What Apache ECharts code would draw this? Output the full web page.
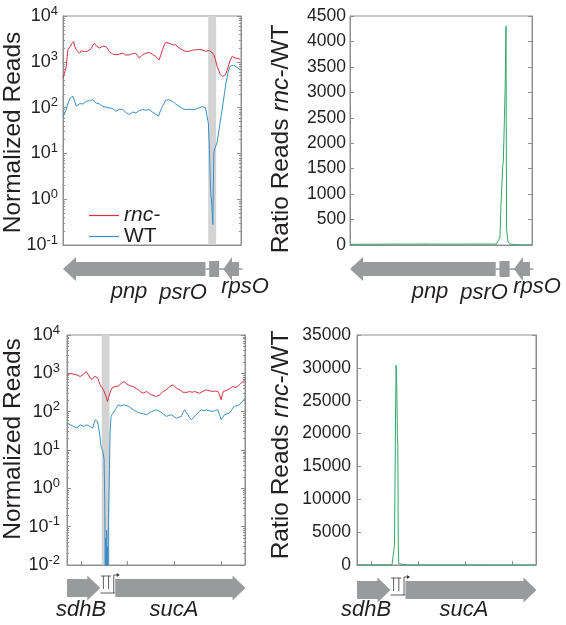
<!DOCTYPE html>
<html><head><meta charset="utf-8">
<script src="https://cdn.jsdelivr.net/npm/echarts@6/dist/echarts.min.js"></script>
<style>html,body{margin:0;padding:0;background:#fff}#c{width:566px;height:625px}</style>
</head><body><div id="c"></div>
<script>
// ---------------- DATA ----------------
// Top-left: normalized reads (position, reads)
const tlRnc = [[0,442],[1.5,560],[3.3,792],[4.2,1300],[5,1824],[6,2000],[7.3,2154],[9,2500],[10.7,2767],[12,2100],[13.3,1824],[15,1700],[16.7,1542],[18.3,1750],[20,1824],[21.7,1650],[23.3,1542],[25,1720],[26.7,1679],[28.3,1950],[30,2300],[31.7,2547],[33.3,2250],[35,2100],[36.7,1983],[38.3,2050],[40,2200],[41.7,2000],[43.3,2154],[45,1900],[46.7,1650],[48.3,1542],[50,1480],[51.7,1520],[53.3,1419],[55,1380],[56.7,1470],[58.3,1500],[60,1542],[61.7,1450],[63.3,1400],[65,1480],[66.7,1419],[68.3,1560],[70,1500],[71.7,1600],[73.3,1542],[75,1350],[76.7,1202],[78.3,1300],[80,1420],[81.7,1500],[83.3,1542],[85,1480],[86.7,1600],[88.3,1542],[90,1450],[91.7,1380],[93.3,1306],[95,1200],[96.7,1105],[98.3,1400],[100,1824],[101.7,2300],[103.3,2630],[105,2500],[106.7,2547],[108.3,2400],[110,2350],[111.7,2450],[113.3,2344],[115,2150],[116.7,2000],[118.3,1900],[120,1824],[121.7,1750],[123.3,1700],[125,1760],[126.7,1679],[128.3,1720],[130,1800],[131.7,1760],[133.3,1824],[135,1900],[136.7,1850],[138.3,1780],[140,1824],[141.7,1750],[143.3,1700],[145,1679],[146.7,1760],[148.3,1824],[150,1600],[151.7,1419],[153.3,1100],[155,792],[156.7,640],[158.3,521],[160.7,480],[162,495],[163.3,521],[165,650],[166.7,861],[168.3,1100],[170,1306],[171.7,1260],[173.3,1202],[175,1150],[176.7,1180],[178.3,1105]];
const tlWT = [[0,64.9],[1.7,59.6],[3.3,90.6],[5,126],[6,140],[7.3,162],[8.7,170],[10,176],[11.7,140],[13.3,107],[15,118],[16.7,122],[18.3,126],[20,120],[21.7,132],[23.3,137],[25,130],[26.7,142],[28.3,138],[30,149],[31.7,135],[33.3,126],[35,118],[36.7,120],[38.3,112],[40,107],[41.7,110],[43.3,102],[45,104],[46.7,98.4],[48.3,92],[50,95],[51.7,88],[53.3,83.2],[55,86],[56.7,92],[58.3,95],[60,90.6],[61.7,82],[63.3,78],[65,74],[66.7,70.5],[68.3,75],[70,80],[71.7,78],[73.3,76.6],[75,80],[76.7,86],[78.3,92],[80,90.6],[81.7,94],[83.3,88],[85,92],[86.7,90.6],[88.3,84],[90,80],[91.7,76.6],[93.3,72],[95,67],[96,64.9],[97.5,80],[99,95],[100,107],[101.7,125],[103.3,145],[105,154],[106.7,148],[108.3,142],[110,137],[111.7,130],[113.3,120],[115,112],[116.7,107],[118.3,100],[120,96],[121.7,92],[123.3,90.6],[125,88],[126.7,92],[128.3,90],[130,90.6],[131.7,95],[133.3,92],[135,96],[136.7,98.4],[138.3,102],[140,105],[141.7,107],[143.3,100],[145,90.6],[146.2,45],[147.3,12.2],[148,3],[148.7,1.18],[149.3,1.05],[150,1.0],[150.7,0.28],[151.2,2],[151.7,10.5],[153.3,14],[155,17.3],[157.5,40],[160,90.6],[162,180],[164,349],[165.5,520],[167.3,741],[168.7,820],[170,861],[171.7,840],[173.3,818],[175,760],[176.7,700],[178.3,670]];
// Top-right: ratio rnc-/WT
const trRatio = [[0,12],[10,15],[20,14],[30,16],[40,18],[50,17],[60,17],[70,19],[80,18],[90,17],[100,17],[110,18],[120,18],[130,19],[140,18],[144,20],[145.6,25],[147.5,150],[148.5,800],[150.2,1550],[150.8,1650],[151.9,2500],[152.6,3100],[153.4,4300],[154.0,300],[155.4,60],[158.3,15],[165,3],[170,1.5],[179,1.5]];
// Bottom-left: normalized reads
const blRnc = [[0,910],[1.7,960],[3.3,993],[5,920],[6.7,948],[8.3,980],[10,910],[11.7,870],[13.3,824],[15,900],[16.7,967],[18,1050],[19.3,1111],[20.5,1000],[21.7,910],[23,760],[24,674],[25.3,700],[26.7,746],[28,840],[29,910],[30,820],[31,746],[32.2,600],[33.3,500],[35,430],[36.7,371],[38,300],[39.3,249],[40,215],[40.7,184],[41.7,230],[42.7,275],[43.8,340],[45,409],[46.7,440],[48.3,453],[50,480],[51.7,470],[53.3,500],[55,560],[57.3,611],[59.5,540],[61.7,500],[64,470],[66.7,453],[69,410],[71.7,371],[74,330],[76.7,303],[78.3,320],[80,336],[82.5,300],[85,275],[87.5,262],[90,249],[91.7,262],[93.3,275],[95,305],[96.7,336],[98.3,355],[100,371],[101.7,410],[103.3,453],[105,480],[106.7,500],[108.3,450],[110,409],[111.7,390],[113.3,371],[115,340],[116.7,320],[118.3,303],[120.8,320],[123.3,336],[125.8,320],[128.3,336],[130.8,318],[133.3,303],[136.7,340],[140,371],[143.3,350],[146.7,336],[149.2,345],[151.7,336],[153.3,280],[155,204],[156.2,280],[157.3,336],[159.5,350],[161.7,371],[164.2,410],[166.7,453],[169.2,430],[171.7,453],[173.3,500],[175,552],[177,610],[179,674]];
const blWT = [[0,50.3],[1.7,48],[3.3,45.5],[5,43],[6.7,41.2],[8.3,39],[10,37.3],[11.7,41],[13.3,45.5],[15,43],[16.7,41.2],[18.3,43],[20,45.5],[21.3,43],[22.7,41.2],[24.3,39],[26,37.3],[27.2,50],[28.3,61.4],[29.5,58],[30.7,55.6],[31.7,40],[32.7,27.6],[33.5,18],[34.3,12.4],[35.2,10.5],[36,9.2],[36.7,7.5],[37.3,5.6],[38,0.42],[38.5,0.001],[39,0.05],[39.4,0.001],[39.9,0.08],[40.3,0.001],[40.8,0.03],[41.3,0.001],[41.7,0.154],[42.7,3.07],[43.3,27.6],[44.3,75],[45.5,85],[46.7,91.6],[49.2,120],[51.7,151],[54.2,140],[56.7,151],[59.2,145],[61.7,137],[64.2,125],[66.7,112],[70,100],[73.3,91.6],[76.7,88],[80,82.8],[82.5,92],[85,101],[87.5,106],[90,112],[91.7,106],[93.3,101],[96.7,88],[100,75],[102.5,80],[105,82.8],[107.5,75],[110,67.9],[112.5,72],[115,75],[116.7,95],[118.3,112],[120,95],[121.7,82.8],[123.3,70],[125,61.4],[127.5,72],[130,82.8],[132.5,98],[135,112],[137.5,105],[140,112],[143.3,106],[146.7,101],[149.2,108],[151.7,112],[153.3,85],[155,61.4],[156.7,72],[158.3,82.8],[160.8,88],[163.3,91.6],[165.8,115],[168.3,137],[170.8,145],[173.3,151],[176,180],[179,225]];
// Bottom-right: ratio rnc-/WT
const brRatio = [[0,18],[10,20],[20,22],[30,25],[35,30],[36.5,50],[37.5,3000],[38.5,22000],[39.1,30400],[39.8,27000],[40.4,19500],[40.8,18500],[41.3,3000],[41.8,200],[43.1,30],[50,5],[70,4],[100,5],[130,4],[160,3],[179,3]];

// Highlighted (grey) regions
const tlBand = [146, 154];
const blBand = [35, 42.7];

// Tick values / labels
const logTicksTop = [0.1, 1, 10, 100, 1000, 10000];
const logTicksBottom = [0.01, 0.1, 1, 10, 100, 1000, 10000];
const ratioTopMax = 4500, ratioTopStep = 500;
const ratioBottomMax = 35000, ratioBottomStep = 5000;
const bottomXTicks = [14.3, 61, 108.3, 155];

// Gene tracks: [start(tail), end(tip), kind]  kind: 0 arrow, 1 box, 2 line, 3 terminator, 4 promoter
const topGenes = [[143.3, 180.5, 2], [143.3, 0, 0], [147, 157, 1], [177, 161.3, 0]];
const bottomGenes = [[33.5, 48.5, 2], [0, 33.5, 0], [48.5, 179.5, 0], [36.6, 36.6, 3], [41.8, 41.8, 3], [47, 47, 4]];
const seriesNames = ['rnc-', 'WT'];

// ---------------- STYLE ----------------
const FONT = '"Liberation Sans", Arial, Helvetica, sans-serif';
const BOX = '#8e8e8e';
const TXT = '#231f20';
const RED = '#d6303f';
const BLUE = '#3b8ec8';
const GREEN = '#2fa866';
const GENE = '#999a9c';

const grids = [
  {left: 63, top: 16, width: 178, height: 229},
  {left: 350, top: 16, width: 182, height: 229},
  {left: 67, top: 335, width: 178, height: 230},
  {left: 357, top: 335, width: 179, height: 230},
  {left: 63, top: 256, width: 178, height: 26},
  {left: 350, top: 256, width: 182, height: 26},
  {left: 67, top: 575, width: 178, height: 26},
  {left: 357, top: 577, width: 179, height: 26}
].map(g => Object.assign({show: g.height > 100, borderColor: BOX, borderWidth: 1, backgroundColor: 'transparent'}, g));

function xMain(gi, ticks) {
  return {type: 'value', gridIndex: gi, min: 0, max: 179,
    axisLine: {show: true, onZero: false, lineStyle: {color: BOX, width: 1}},
    splitLine: {show: false}, axisLabel: {show: false},
    axisTick: ticks ? {show: true, inside: true, length: 4, customValues: ticks, lineStyle: {color: BOX}} : {show: false}};
}
function xGene(gi) {
  return {type: 'value', gridIndex: gi, min: 0, max: 179, show: false};
}
const logRich = {
  s: {fontSize: 13, fontFamily: FONT, color: TXT, lineHeight: 13, verticalAlign: 'top'}
};
function logAxes(gi, ticks, margin) {
  const min = ticks[0], max = ticks[ticks.length - 1];
  const minors = [];
  for (let i = 0; i < ticks.length - 1; i++) for (let k = 2; k <= 9; k++) minors.push(k * ticks[i]);
  const base = {type: 'log', logBase: 10, gridIndex: gi, min: min, max: max,
    splitLine: {show: false}, axisLine: {show: true, onZero: false, lineStyle: {color: BOX}}};
  return [
    Object.assign({}, base, {position: 'left',
      axisTick: {inside: true, length: 4, customValues: ticks, lineStyle: {color: BOX}},
      axisLabel: {customValues: ticks, margin: margin, fontSize: 18, lineHeight: 23, fontFamily: FONT, color: TXT,
        formatter: v => '10{s|' + Math.round(Math.log10(v)) + '}', rich: logRich}}),
    Object.assign({}, base, {position: 'right',
      axisTick: {inside: true, length: 4, customValues: ticks, lineStyle: {color: BOX}},
      axisLabel: {show: false}}),
    Object.assign({}, base, {position: 'left', axisLine: {show: false},
      axisTick: {inside: true, length: 2, customValues: minors, lineStyle: {color: BOX}},
      axisLabel: {show: false}}),
    Object.assign({}, base, {position: 'right', axisLine: {show: false},
      axisTick: {inside: true, length: 2, customValues: minors, lineStyle: {color: BOX}},
      axisLabel: {show: false}})
  ];
}
function linAxes(gi, max, step, margin) {
  const base = {type: 'value', gridIndex: gi, min: 0, max: max, interval: step,
    splitLine: {show: false}, axisLine: {show: true, onZero: false, lineStyle: {color: BOX}},
    axisTick: {inside: true, length: 4, lineStyle: {color: BOX}}};
  return [
    Object.assign({}, base, {position: 'left',
      axisLabel: {margin: margin, fontSize: 17.5, fontFamily: FONT, color: TXT, formatter: v => String(v)}}),
    Object.assign({}, base, {position: 'right', axisLabel: {show: false}})
  ];
}
function yGene(gi) {
  return {type: 'value', gridIndex: gi, min: 0, max: 1, show: false};
}

const yAxes = [].concat(
  logAxes(0, logTicksTop, 5),          // 0-3
  linAxes(1, ratioTopMax, ratioTopStep, 4),   // 4-5
  logAxes(2, logTicksBottom, 7),       // 6-9
  linAxes(3, ratioBottomMax, ratioBottomStep, 6), // 10-11
  [yGene(4), yGene(5), yGene(6), yGene(7)]      // 12-15
);

function geneRenderer(shaftH, headH, boxH, headMax, lineOff) {
  return function (params, api) {
    const kind = api.value(2);
    const p0 = api.coord([api.value(0), 0.5]);
    const p1 = api.coord([api.value(1), 0.5]);
    const cy = p0[1];
    if (kind === 0) {
      const dir = p1[0] > p0[0] ? 1 : -1;
      const len = Math.abs(p1[0] - p0[0]);
      const hl = Math.min(headMax, len * 0.55);
      const xb = p1[0] - dir * hl;
      return {type: 'polygon', shape: {points: [
        [p0[0], cy - shaftH / 2], [xb, cy - shaftH / 2], [xb, cy - headH / 2], [p1[0], cy],
        [xb, cy + headH / 2], [xb, cy + shaftH / 2], [p0[0], cy + shaftH / 2]]},
        style: {fill: GENE}};
    }
    if (kind === 1) {
      return {type: 'rect', shape: {x: Math.min(p0[0], p1[0]), y: cy - boxH / 2,
        width: Math.abs(p1[0] - p0[0]), height: boxH}, style: {fill: GENE}};
    }
    if (kind === 2) {
      return {type: 'line', shape: {x1: p0[0], y1: cy + lineOff, x2: p1[0], y2: cy + lineOff},
        style: {stroke: lineOff ? '#333' : GENE, lineWidth: lineOff ? 0.8 : 1.5}};
    }
    if (kind === 3) {
      return {type: 'group', children: [
        {type: 'line', shape: {x1: p0[0], y1: cy + 1, x2: p0[0], y2: cy - 12}, style: {stroke: '#333', lineWidth: 0.8}},
        {type: 'line', shape: {x1: p0[0] - 2.5, y1: cy - 12, x2: p0[0] + 2.5, y2: cy - 12}, style: {stroke: '#333', lineWidth: 0.8}}
      ]};
    }
    if (kind === 4) {
      return {type: 'group', children: [
        {type: 'polyline', shape: {points: [[p0[0], cy + lineOff], [p0[0], cy - 13], [p0[0] + 4, cy - 13]]}, style: {stroke: '#333', lineWidth: 0.8, fill: null}},
        {type: 'polygon', shape: {points: [[p0[0] + 3, cy - 15], [p0[0] + 6, cy - 13], [p0[0] + 3, cy - 11]]}, style: {fill: '#333'}}
      ]};
    }
    return null;
  };
}

function lineSeries(name, data, xi, yi, color) {
  return {type: 'line', name: name, data: data, xAxisIndex: xi, yAxisIndex: yi,
    showSymbol: false, symbol: 'none', smooth: false, clip: true,
    lineStyle: {color: color, width: 1}, itemStyle: {color: color}, emphasis: {disabled: true}, z: 3};
}
function bandSeries(xi, yi, band) {
  return {type: 'line', name: 'band', data: [], xAxisIndex: xi, yAxisIndex: yi, z: 1, silent: true,
    markArea: {silent: true, itemStyle: {color: '#d3d3d3', opacity: 1}, data: [[{xAxis: band[0]}, {xAxis: band[1]}]]}};
}
function geneSeries(xi, yi, data, r) {
  return {type: 'custom', xAxisIndex: xi, yAxisIndex: yi, data: data, clip: false, silent: true,
    renderItem: r, z: 2};
}

const topR = geneRenderer(14, 24, 16, 13, 0);
const botR = geneRenderer(18, 25, 18, 13, 5);

const option = {
  animation: false,
  backgroundColor: '#ffffff',
  textStyle: {fontFamily: FONT},
  grid: grids,
  xAxis: [xMain(0, null), xMain(1, null), xMain(2, bottomXTicks), xMain(3, bottomXTicks), xGene(4), xGene(5), xGene(6), xGene(7)],
  yAxis: yAxes,
  legend: {data: seriesNames, orient: 'vertical', left: 84, top: 200, itemWidth: 30, itemHeight: 1.2, itemGap: 0,
    icon: 'rect', selectedMode: false,
    formatter: n => n === 'rnc-' ? '{i|rnc-}' : n,
    textStyle: {fontSize: 21, lineHeight: 17, fontFamily: FONT, color: TXT,
      rich: {i: {fontStyle: 'italic', fontSize: 21, lineHeight: 17, fontFamily: FONT, color: TXT}}}},
  series: [
    bandSeries(0, 0, tlBand),
    lineSeries(seriesNames[0], tlRnc, 0, 0, RED),
    lineSeries(seriesNames[1], tlWT, 0, 0, BLUE),
    lineSeries('ratioTop', trRatio, 1, 4, GREEN),
    bandSeries(2, 6, blBand),
    lineSeries(seriesNames[0], blRnc, 2, 6, RED),
    lineSeries(seriesNames[1], blWT, 2, 6, BLUE),
    lineSeries('ratioBottom', brRatio, 3, 10, GREEN),
    geneSeries(4, 12, topGenes, topR),
    geneSeries(5, 13, topGenes, topR),
    geneSeries(6, 14, bottomGenes, botR),
    geneSeries(7, 15, bottomGenes, botR)
  ],
  graphic: [
    {type: 'text', x: 13, y: 132.5, rotation: Math.PI / 2, style: {text: 'Normalized Reads', fontSize: 24.5, fontFamily: FONT, fill: TXT, align: 'center', verticalAlign: 'middle'}},
    {type: 'text', x: 13, y: 439, rotation: Math.PI / 2, style: {text: 'Normalized Reads', fontSize: 24.5, fontFamily: FONT, fill: TXT, align: 'center', verticalAlign: 'middle'}},
    {type: 'text', x: 281, y: 139, rotation: Math.PI / 2, style: {text: 'Ratio Reads {i|rnc-}/WT', fontSize: 24.5, fontFamily: FONT, fill: TXT, align: 'center', verticalAlign: 'middle', rich: {i: {fontStyle: 'italic', fontSize: 24.5, fontFamily: FONT, fill: TXT}}}},
    {type: 'text', x: 281, y: 445, rotation: Math.PI / 2, style: {text: 'Ratio Reads {i|rnc-}/WT', fontSize: 24.5, fontFamily: FONT, fill: TXT, align: 'center', verticalAlign: 'middle', rich: {i: {fontStyle: 'italic', fontSize: 24.5, fontFamily: FONT, fill: TXT}}}},
    // gene labels
    {type: 'text', x: 129, y: 292, style: {text: 'pnp', fontSize: 22, fontStyle: 'italic', fontFamily: FONT, fill: TXT, align: 'center', verticalAlign: 'middle'}},
    {type: 'text', x: 183, y: 293, style: {text: 'psrO', fontSize: 22, fontStyle: 'italic', fontFamily: FONT, fill: TXT, align: 'center', verticalAlign: 'middle'}},
    {type: 'text', x: 245, y: 287, style: {text: 'rpsO', fontSize: 22, fontStyle: 'italic', fontFamily: FONT, fill: TXT, align: 'center', verticalAlign: 'middle'}},
    {type: 'text', x: 430, y: 292, style: {text: 'pnp', fontSize: 22, fontStyle: 'italic', fontFamily: FONT, fill: TXT, align: 'center', verticalAlign: 'middle'}},
    {type: 'text', x: 484, y: 293, style: {text: 'psrO', fontSize: 22, fontStyle: 'italic', fontFamily: FONT, fill: TXT, align: 'center', verticalAlign: 'middle'}},
    {type: 'text', x: 537, y: 287, style: {text: 'rpsO', fontSize: 22, fontStyle: 'italic', fontFamily: FONT, fill: TXT, align: 'center', verticalAlign: 'middle'}},
    {type: 'text', x: 81, y: 610, style: {text: 'sdhB', fontSize: 22, fontStyle: 'italic', fontFamily: FONT, fill: TXT, align: 'center', verticalAlign: 'middle'}},
    {type: 'text', x: 174, y: 610, style: {text: 'sucA', fontSize: 22, fontStyle: 'italic', fontFamily: FONT, fill: TXT, align: 'center', verticalAlign: 'middle'}},
    {type: 'text', x: 366, y: 610, style: {text: 'sdhB', fontSize: 22, fontStyle: 'italic', fontFamily: FONT, fill: TXT, align: 'center', verticalAlign: 'middle'}},
    {type: 'text', x: 464, y: 610, style: {text: 'sucA', fontSize: 22, fontStyle: 'italic', fontFamily: FONT, fill: TXT, align: 'center', verticalAlign: 'middle'}}
  ]
};

const chart = echarts.init(document.getElementById('c'), null, {renderer: 'canvas'});
chart.setOption(option);
</script>
</body></html>
